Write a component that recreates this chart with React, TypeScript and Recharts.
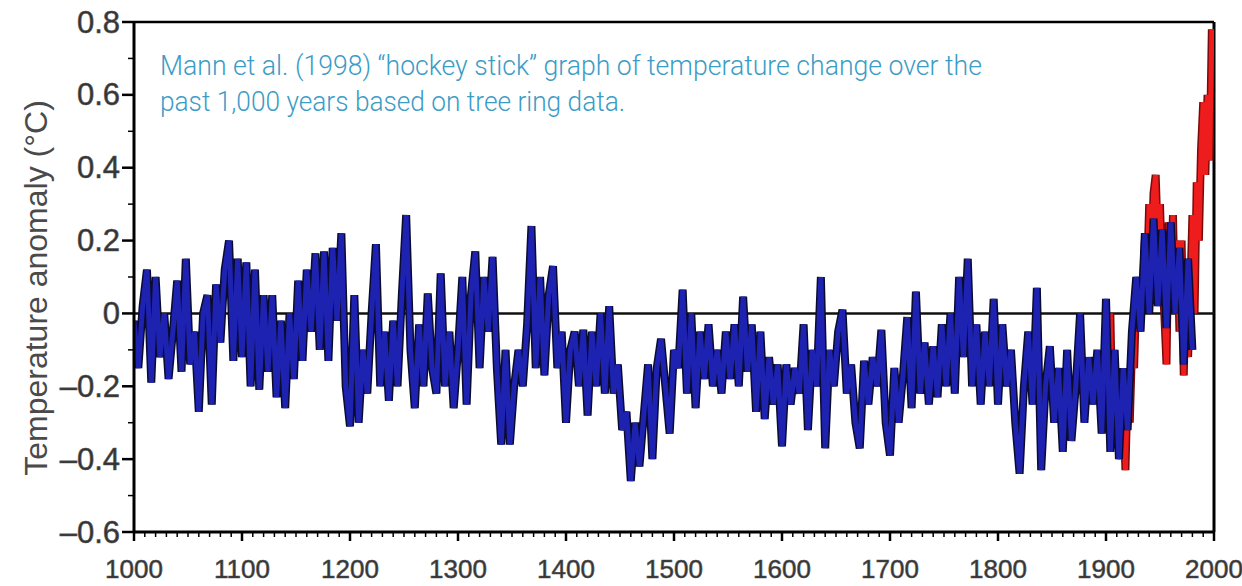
import React from 'react';
import { LineChart, Line, XAxis, YAxis, ReferenceLine } from 'recharts';

// reconstruction of the blue (proxy) series, one value every 4 years from 1000
const blueStart = 1000;
const blueStep = 4;
const blueValues = [
  -0.02, -0.15, 0.02, 0.12, -0.19, // 1000
  0.1, -0.12, 0.0, -0.18, -0.05, // 1020
  0.09, -0.16, 0.15, -0.14, -0.05, // 1040
  -0.27, 0.0, 0.05, -0.25, 0.08, // 1060
  -0.08, 0.12, 0.2, -0.13, 0.15, // 1080
  -0.12, 0.14, -0.2, 0.12, -0.21, // 1100
  0.05, -0.16, 0.05, -0.23, -0.02, // 1120
  -0.26, 0.0, -0.18, 0.09, -0.13, // 1140
  0.12, -0.05, 0.165, -0.1, 0.17, // 1160
  -0.13, 0.18, -0.02, 0.22, -0.2, // 1180
  -0.31, 0.05, -0.3, -0.1, -0.22, // 1200
  0.0, 0.19, -0.2, -0.05, -0.24, // 1220
  -0.02, -0.2, 0.05, 0.27, -0.1, // 1240
  -0.26, -0.03, -0.2, 0.055, -0.15, // 1260
  -0.22, 0.11, -0.2, -0.05, -0.26, // 1280
  -0.1, 0.1, -0.25, 0.05, 0.17, // 1300
  -0.15, 0.1, -0.05, 0.155, -0.15, // 1320
  -0.36, -0.1, -0.36, -0.2, -0.1, // 1340
  -0.2, -0.03, 0.24, -0.15, 0.1, // 1360
  -0.17, 0.05, 0.13, -0.15, -0.05, // 1380
  -0.3, -0.1, -0.05, -0.2, -0.045, // 1400
  -0.28, -0.05, -0.2, 0.0, -0.22, // 1420
  0.02, -0.22, -0.14, -0.32, -0.27, // 1440
  -0.46, -0.3, -0.42, -0.28, -0.14, // 1460
  -0.4, -0.15, -0.07, -0.2, -0.33, // 1480
  -0.1, -0.15, 0.065, -0.22, 0.0, // 1500
  -0.26, -0.05, -0.18, -0.03, -0.2, // 1520
  -0.1, -0.22, -0.05, -0.18, -0.03, // 1540
  -0.2, 0.046, -0.16, -0.03, -0.27, // 1560
  -0.05, -0.29, -0.12, -0.25, -0.14, // 1580
  -0.365, -0.14, -0.25, -0.15, -0.22, // 1600
  -0.03, -0.32, -0.1, -0.2, 0.1, // 1620
  -0.37, -0.1, -0.2, -0.05, 0.01, // 1640
  -0.22, -0.14, -0.3, -0.37, -0.13, // 1660
  -0.25, -0.12, -0.2, -0.045, -0.3, // 1680
  -0.39, -0.15, -0.3, -0.17, -0.01, // 1700
  -0.26, 0.06, -0.22, -0.08, -0.25, // 1720
  -0.09, -0.23, -0.03, -0.2, 0.0, // 1740
  -0.22, 0.1, -0.12, 0.15, -0.2, // 1760
  -0.03, -0.25, -0.05, -0.2, 0.04, // 1780
  -0.25, -0.03, -0.2, -0.1, -0.3, // 1800
  -0.44, -0.2, -0.05, -0.25, 0.07, // 1820
  -0.43, -0.2, -0.09, -0.3, -0.15, // 1840
  -0.38, -0.1, -0.35, -0.2, 0.0, // 1860
  -0.3, -0.12, -0.25, -0.1, -0.33, // 1880
  0.04, -0.38, -0.1, -0.4, -0.15, // 1900
  -0.32, -0.05, 0.1, -0.05, 0.22, // 1920
  0.0, 0.26, 0.02, 0.23, -0.04, // 1940
  0.25, 0.0, 0.18, -0.14, 0.15, // 1960
  -0.1, // 1980
];

// red (instrumental) series, every 2 years from 1900
const redStart = 1900;
const redStep = 2;
const redValues = [
  -0.05, -0.2, 0.0, -0.3, -0.15, -0.35, -0.2, -0.4, -0.25, -0.43, // 1900
  -0.2, -0.3, -0.1, -0.15, 0.05, -0.05, 0.1, 0.05, 0.2, 0.1, // 1920
  0.3, 0.15, 0.33, 0.38, 0.2, 0.3, 0.1, 0.0, -0.14, 0.25, // 1940
  0.05, 0.27, 0.0, 0.2, -0.05, 0.2, -0.17, 0.1, -0.12, 0.05, // 1960
  0.27, 0.0, 0.36, 0.2, 0.45, 0.58, 0.38, 0.6, 0.42, 0.78, // 1980
];

const xLabels = [1000, 1100, 1200, 1300, 1400, 1500, 1600, 1700, 1800, 1900, 2000];
const yTicks = [-0.6, -0.5, -0.4, -0.3, -0.2, -0.1, 0, 0.1, 0.2, 0.3, 0.4, 0.5, 0.6, 0.7, 0.8];

const titleLines = [
  'Mann et al. (1998) \u201chockey stick\u201d graph of temperature change over the',
  'past 1,000 years based on tree ring data.',
];

const blueData = blueValues.map((v, i) => ({ year: blueStart + i * blueStep, v }));
const redData = redValues.map((v, i) => ({ year: redStart + i * redStep, v }));

// minor ticks every 10 years
const xTicks: number[] = [];
for (let y = 1000; y <= 2000; y += 10) xTicks.push(y);

const tickFont = '"Liberation Sans", Arial, sans-serif';

const renderXTick = (props: any) => {
  const { x, y, payload } = props;
  const v = payload.value;
  const major = xLabels.includes(v);
  return (
    <g>
      {major ? (
        <line x1={x} x2={x} y1={y} y2={y + 9} stroke="#000" strokeWidth={2.5} />
      ) : (
        <line x1={x} x2={x} y1={y} y2={y + 5} stroke="#000" strokeWidth={1.5} />
      )}
      {major && (
        <text x={x} y={y + 46} textAnchor="middle" fontSize={26} fill="#333" stroke="#555" strokeWidth={0.6} fontFamily={tickFont}>
          {v}
        </text>
      )}
    </g>
  );
};

const fmtY = (v: number) => {
  if (Math.abs(v) < 1e-9) return '0';
  return (v < 0 ? '\u2013' : '') + Math.abs(v).toFixed(1);
};

const renderYTick = (props: any) => {
  const { x, y, payload } = props;
  const v = payload.value;
  const major = Math.round(v * 10) % 2 === 0;
  return (
    <g>
      {major ? (
        <line x1={x - 12} x2={x} y1={y} y2={y} stroke="#000" strokeWidth={2.5} />
      ) : (
        <line x1={x - 6} x2={x} y1={y} y2={y} stroke="#000" strokeWidth={1.5} />
      )}
      {major && (
        <text x={x - 14} y={y} textAnchor="end" dominantBaseline="central" fontSize={31} fill="#333" stroke="#555" strokeWidth={0.6} fontFamily={tickFont}>
          {fmtY(v)}
        </text>
      )}
    </g>
  );
};

export default function App() {
  return (
    <div style={{ position: 'absolute', left: 0, top: 0, width: 1242, height: 586, background: '#fff' }}>
      <LineChart width={1242} height={586} margin={{ top: 22, right: 28, bottom: 14, left: 34 }}>
        <XAxis
          xAxisId="x"
          dataKey="year"
          type="number"
          domain={[1000, 2000]}
          ticks={xTicks}
          interval={0}
          tickSize={0}
          tickMargin={0}
          tickLine={false}
          tick={renderXTick}
          axisLine={{ stroke: '#000', strokeWidth: 3 }}
          height={40}
          allowDataOverflow
        />
        <YAxis
          yAxisId="y"
          type="number"
          domain={[-0.6, 0.8]}
          ticks={yTicks}
          interval={0}
          tickSize={0}
          tickMargin={0}
          tickLine={false}
          tick={renderYTick}
          axisLine={{ stroke: '#000', strokeWidth: 3 }}
          width={100}
          allowDataOverflow
        />
        <ReferenceLine xAxisId="x" yAxisId="y" y={0.8} stroke="#000" strokeWidth={2.5} />
        <ReferenceLine xAxisId="x" yAxisId="y" x={2000} stroke="#000" strokeWidth={3} />
        <ReferenceLine xAxisId="x" yAxisId="y" y={0} stroke="#111" strokeWidth={2.5} />
        <Line xAxisId="x" yAxisId="y" data={redData} dataKey="v" type="linear" stroke="#7a0a0a" strokeWidth={8} dot={false} activeDot={false} isAnimationActive={false} />
        <Line xAxisId="x" yAxisId="y" data={redData} dataKey="v" type="linear" stroke="#ee1c1c" strokeWidth={5} dot={false} activeDot={false} isAnimationActive={false} />
        <Line xAxisId="x" yAxisId="y" data={blueData} dataKey="v" type="linear" stroke="#0b0b30" strokeWidth={8} dot={false} activeDot={false} isAnimationActive={false} />
        <Line xAxisId="x" yAxisId="y" data={blueData} dataKey="v" type="linear" stroke="#1e22b0" strokeWidth={5} dot={false} activeDot={false} isAnimationActive={false} />
      </LineChart>
      <svg width={1242} height={586} style={{ position: 'absolute', left: 0, top: 0, pointerEvents: 'none' }}>
        <text
          transform="translate(47, 288) rotate(-90)"
          textAnchor="middle"
          fontSize={32}
          fill="#4a4a4a"
          fontFamily={tickFont}
        >
          Temperature anomaly (°C)
        </text>
        <text x={160} y={75} fontSize={28} fill="#3b9cc6" fontFamily="Roboto, sans-serif" fontWeight={300} textLength={822} lengthAdjust="spacingAndGlyphs">
          {titleLines[0]}
        </text>
        <text x={160} y={111} fontSize={28} fill="#3b9cc6" fontFamily="Roboto, sans-serif" fontWeight={300} textLength={465} lengthAdjust="spacingAndGlyphs">
          {titleLines[1]}
        </text>
      </svg>
    </div>
  );
}
